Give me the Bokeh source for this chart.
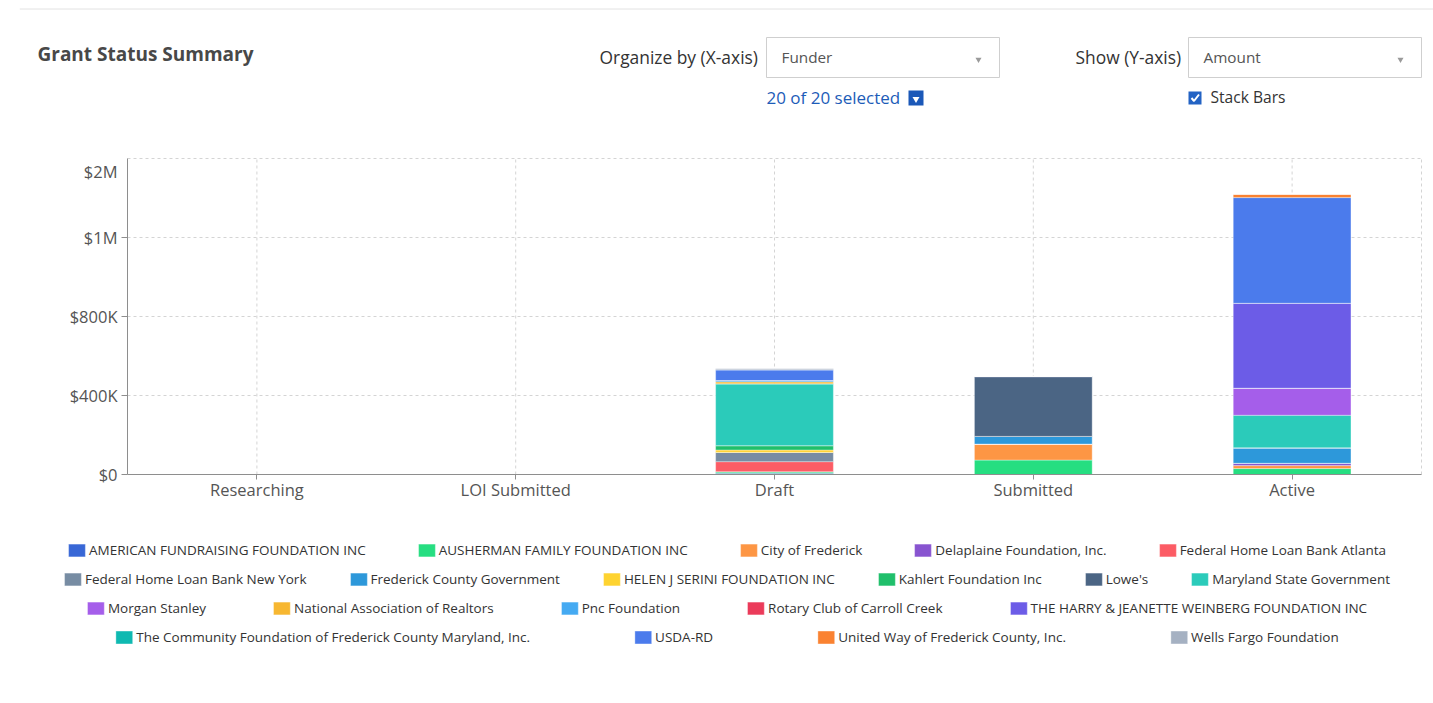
from bokeh.plotting import figure
from bokeh.models import Range1d, FixedTicker, Legend, LegendItem, ColumnDataSource, LinearAxis
from bokeh.core.properties import value
from bokeh.embed import file_html
from bokeh.resources import INLINE

FONT = "Open Sans"

# ---------------- data ----------------
statuses = ["Researching", "LOI Submitted", "Draft", "Submitted", "Active"]

funders = [
    "AMERICAN FUNDRAISING FOUNDATION INC",
    "AUSHERMAN FAMILY FOUNDATION INC",
    "City of Frederick",
    "Delaplaine Foundation, Inc.",
    "Federal Home Loan Bank Atlanta",
    "Federal Home Loan Bank New York",
    "Frederick County Government",
    "HELEN J SERINI FOUNDATION INC",
    "Kahlert Foundation Inc",
    "Lowe's",
    "Maryland State Government",
    "Morgan Stanley",
    "National Association of Realtors",
    "Pnc Foundation",
    "Rotary Club of Carroll Creek",
    "THE HARRY & JEANETTE WEINBERG FOUNDATION INC",
    "The Community Foundation of Frederick County Maryland, Inc.",
    "USDA-RD",
    "United Way of Frederick County, Inc.",
    "Wells Fargo Foundation",
]

colors = [
    "#3867d6", "#26de81", "#fd9644", "#8854d0", "#fc5c65",
    "#778ca3", "#2d98da", "#fed330", "#20bf6b", "#4b6584",
    "#2bcbba", "#a55eea", "#f7b731", "#45aaf2", "#eb3b5a",
    "#6c5ce7", "#0fb9b1", "#4b7bec", "#fa8231", "#a5b1c2",
]

# amounts in dollars, per status: Researching, LOI Submitted, Draft, Submitted, Active
american_fundraising = [0, 0, 6000, 0, 0]
ausherman = [0, 0, 8000, 73000, 30000]
city_of_frederick = [0, 0, 0, 81000, 15000]
delaplaine = [0, 0, 0, 0, 12000]
fhlb_atlanta = [0, 0, 51000, 0, 0]
fhlb_new_york = [0, 0, 47000, 0, 0]
frederick_county = [0, 0, 0, 39000, 78000]
helen_serini = [0, 0, 12000, 0, 0]
kahlert = [0, 0, 22000, 0, 0]
lowes = [0, 0, 0, 303000, 0]
maryland_state = [0, 0, 313000, 0, 165000]
morgan_stanley = [0, 0, 0, 0, 137000]
nar = [0, 0, 10000, 0, 0]
pnc = [0, 0, 7000, 0, 0]
rotary = [0, 0, 0, 0, 0]
weinberg = [0, 0, 0, 0, 430000]
community_foundation = [0, 0, 0, 0, 0]
usda_rd = [0, 0, 54000, 0, 535000]
united_way = [0, 0, 0, 0, 16000]
wells_fargo = [0, 0, 5000, 0, 0]

series = [
    american_fundraising, ausherman, city_of_frederick, delaplaine, fhlb_atlanta,
    fhlb_new_york, frederick_county, helen_serini, kahlert, lowes,
    maryland_state, morgan_stanley, nar, pnc, rotary,
    weinberg, community_foundation, usda_rd, united_way, wells_fargo,
]

y_tick_values = [0, 400000, 800000, 1200000, 1600000]
y_tick_labels = ["$0", "$400K", "$800K", "$1M", "$2M"]

legend_rows = [5, 6, 5, 4]

# ---------------- page geometry (pixels) ----------------
W, H = 1433, 703
FRAME_L = 19                          # drawing area starts here; legends centre on it
CH_L, CH_R, CH_T, CH_B = 127, 1421, 158, 474   # plot area of the chart
LEGEND_ROW_Y = [551, 580, 609, 638]
LEGEND_SPACING = [50, 41, 65, 102]
YMAX = y_tick_values[-1]
NCAT = len(statuses)
kx = NCAT / (CH_R - CH_L)
ky = YMAX / (CH_B - CH_T)


def X(px):
    return (px - CH_L) * kx


def Y(py):
    return (CH_B - py) * ky


p = figure(width=W, height=H,
           x_range=Range1d(X(FRAME_L), X(W)), y_range=Range1d(Y(H), Y(0)),
           min_border_left=FRAME_L, min_border_right=0, min_border_top=0, min_border_bottom=0,
           x_axis_location=None, y_axis_location=None,
           toolbar_location=None, output_backend="svg")
p.grid.visible = False
p.outline_line_color = None
p.background_fill_color = "white"
p.border_fill_color = "white"

# ---------------- header ----------------
p.segment(x0=[X(FRAME_L)], y0=[Y(8.5)], x1=[X(W)], y1=[Y(8.5)], line_color="#e2e2e2", line_width=1)

TY = -0.5  # text baseline correction
p.text(x=[X(37)], y=[Y(54 + TY)], text=["Grant Status Summary"], text_font=value(FONT),
       text_font_size="19px", text_font_style="bold", text_color="#484848",
       text_baseline="middle", text_align="left")

p.text(x=[X(599), X(1075)], y=[Y(57 + TY), Y(57 + TY)], text=["Organize by (X-axis)", "Show (Y-axis)"],
       text_font=value(FONT), text_font_size="17.4px", text_color="#333333",
       text_baseline="middle", text_align="left")

p.quad(left=[X(766), X(1188)], right=[X(999), X(1421)], top=[Y(37), Y(37)], bottom=[Y(77), Y(77)],
       fill_color="white", line_color="#cfcfcf", line_width=1)
p.text(x=[X(781), X(1203)], y=[Y(57 + TY), Y(57 + TY)], text=["Funder", "Amount"], text_font=value(FONT),
       text_font_size="15.3px", text_color="#555555", text_baseline="middle", text_align="left")
p.scatter(x=[X(978), X(1400)], y=[Y(59), Y(59)], marker="inverted_triangle", size=6,
          fill_color="#9a9a9a", line_color=None)

p.text(x=[X(766)], y=[Y(97 + TY)], text=["20 of 20 selected"], text_font=value(FONT),
       text_font_size="17px", text_color="#1d5cb8", text_baseline="middle", text_align="left")
p.scatter(x=[X(915.5)], y=[Y(97.5)], marker="square", size=15, fill_color="#1b58b8", line_color=None)
p.scatter(x=[X(915.5)], y=[Y(98.5)], marker="inverted_triangle", size=7, fill_color="white", line_color=None)

p.scatter(x=[X(1194.5)], y=[Y(97.5)], marker="square", size=13, fill_color="#2363c4", line_color=None)
p.line(x=[X(1191), X(1193.5), X(1198.5)], y=[Y(97.5), Y(100.5), Y(94)], line_color="white", line_width=2)
p.text(x=[X(1210)], y=[Y(97 + TY)], text=["Stack Bars"], text_font=value(FONT),
       text_font_size="15.6px", text_color="#333333", text_baseline="middle", text_align="left")

# ---------------- chart ----------------
cat_pos = [i + 0.5 for i in range(NCAT)]

# dashed grid (category centres, value ticks) and right/top border of the plot area
grid_x = cat_pos + [NCAT]
p.segment(x0=grid_x, y0=[0] * len(grid_x), x1=grid_x, y1=[YMAX] * len(grid_x),
          line_color="#d4d4d4", line_dash="3 3", line_width=1)
grid_y = y_tick_values[1:]
p.segment(x0=[0] * len(grid_y), y0=grid_y, x1=[NCAT] * len(grid_y), y1=grid_y,
          line_color="#d4d4d4", line_dash="3 3", line_width=1)

data = {"pos": cat_pos, "status": statuses}
for name, vals in zip(funders, series):
    data[name] = vals
source = ColumnDataSource(data)

bars = p.vbar_stack(funders, x="pos", width=0.455, color=colors, source=source,
                    line_color="white", line_alpha=0.35, line_width=1)

# value axis: the top label sits a little below the top gridline (as in the original)
yaxis = LinearAxis(fixed_location=0, bounds=(0, YMAX), ticker=FixedTicker(ticks=y_tick_values[:-1]),
                   major_label_overrides={v: l for v, l in zip(y_tick_values, y_tick_labels)})
xaxis = LinearAxis(fixed_location=0, bounds=(0, NCAT), ticker=FixedTicker(ticks=cat_pos),
                   major_label_overrides={v: s for v, s in zip(cat_pos, statuses)})
for ax in (xaxis, yaxis):
    ax.axis_line_color = "#8e8e8e"
    ax.major_tick_line_color = "#8e8e8e"
    ax.minor_tick_line_color = None
    ax.major_tick_in = 0
    ax.major_label_text_font = FONT
    ax.major_label_text_font_size = "16.5px"
    ax.major_label_text_color = "#555555"
yaxis.major_tick_out = 6
yaxis.major_label_standoff = 4
xaxis.major_tick_out = 5
xaxis.major_label_standoff = -2
p.add_layout(yaxis, "left")
p.add_layout(xaxis, "below")

p.text(x=[X(CH_L - 10)], y=[y_tick_values[-1] - 13 * ky], text=[y_tick_labels[-1]],
       text_font=value(FONT), text_font_size="16.5px", text_color="#555555",
       text_baseline="middle", text_align="right")

# ---------------- legend ----------------
LEG_H = 30
start = 0
for n, ry, sp in zip(legend_rows, LEGEND_ROW_Y, LEGEND_SPACING):
    items = [LegendItem(label=funders[i], renderers=[bars[i]]) for i in range(start, start + n)]
    start += n
    leg = Legend(items=items, orientation="horizontal", location="bottom_center",
                 margin=int(round(H - ry - LEG_H / 2)),
                 spacing=sp, glyph_width=21, glyph_height=16, label_standoff=2,
                 label_height=16, padding=7,
                 border_line_alpha=0, background_fill_alpha=0,
                 label_text_font=FONT, label_text_font_size="13.5px", label_text_color="#333333")
    p.add_layout(leg, "center")

open("out.html", "w").write(file_html(p, INLINE))
